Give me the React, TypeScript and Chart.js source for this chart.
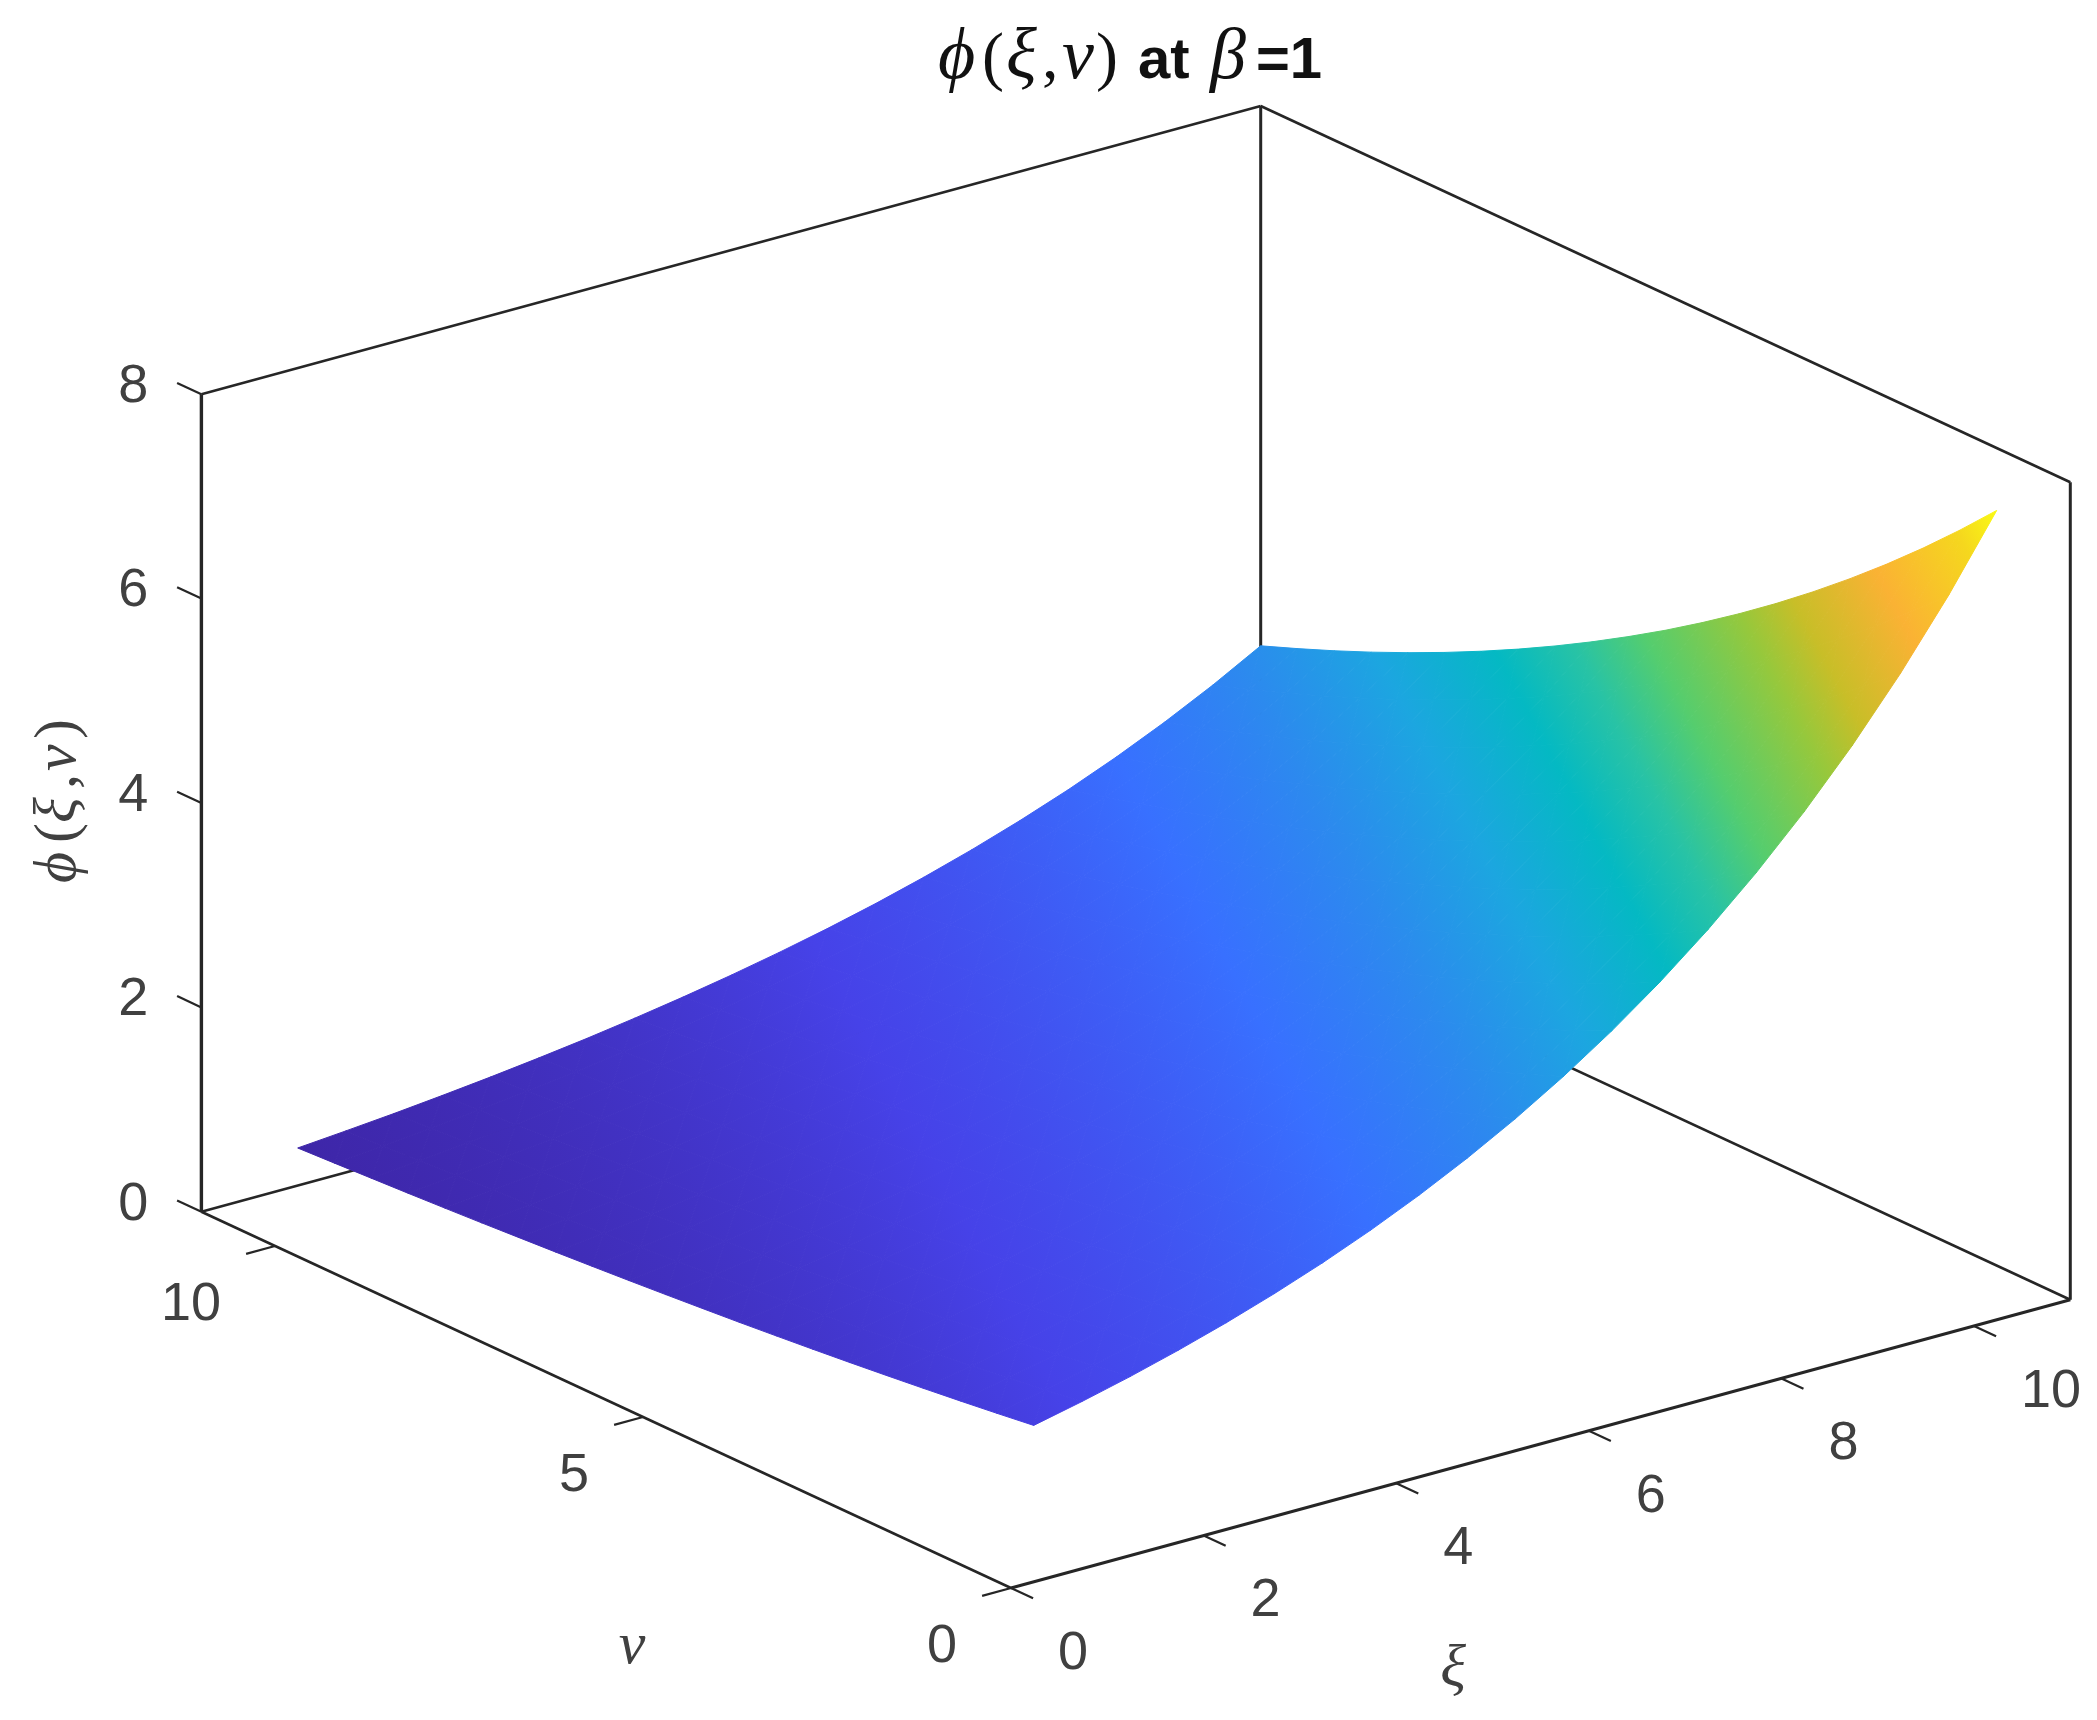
import React, { useEffect, useRef } from "react";
import { Chart, registerables } from "chart.js";

Chart.register(...registerables);

const xiValues = [1, 1.5, 2, 2.5, 3, 3.5, 4, 4.5, 5, 5.5, 6, 6.5, 7, 7.5, 8, 8.5, 9, 9.5, 10, 10.5, 11];
const nuValues = [1, 1.5, 2, 2.5, 3, 3.5, 4, 4.5, 5, 5.5, 6, 6.5, 7, 7.5, 8, 8.5, 9, 9.5, 10, 10.5, 11];
// phi(xi, nu): one row per nu, one column per xi
const phiRows = [
  [1, 1.105, 1.221, 1.35, 1.492, 1.649, 1.822, 2.014, 2.226, 2.46, 2.718, 3.004, 3.32, 3.669, 4.055, 4.482, 4.953, 5.474, 6.05, 6.686, 7.389],
  [0.951, 1.051, 1.162, 1.284, 1.419, 1.568, 1.733, 1.916, 2.117, 2.34, 2.586, 2.858, 3.158, 3.49, 3.857, 4.263, 4.711, 5.207, 5.755, 6.36, 7.029],
  [0.905, 1, 1.105, 1.221, 1.35, 1.492, 1.649, 1.822, 2.014, 2.226, 2.46, 2.718, 3.004, 3.32, 3.669, 4.055, 4.482, 4.953, 5.474, 6.05, 6.686],
  [0.861, 0.951, 1.051, 1.162, 1.284, 1.419, 1.568, 1.733, 1.916, 2.117, 2.34, 2.586, 2.858, 3.158, 3.49, 3.857, 4.263, 4.711, 5.207, 5.755, 6.36],
  [0.819, 0.905, 1, 1.105, 1.221, 1.35, 1.492, 1.649, 1.822, 2.014, 2.226, 2.46, 2.718, 3.004, 3.32, 3.669, 4.055, 4.482, 4.953, 5.474, 6.05],
  [0.779, 0.861, 0.951, 1.051, 1.162, 1.284, 1.419, 1.568, 1.733, 1.916, 2.117, 2.34, 2.586, 2.858, 3.158, 3.49, 3.857, 4.263, 4.711, 5.207, 5.755],
  [0.741, 0.819, 0.905, 1, 1.105, 1.221, 1.35, 1.492, 1.649, 1.822, 2.014, 2.226, 2.46, 2.718, 3.004, 3.32, 3.669, 4.055, 4.482, 4.953, 5.474],
  [0.705, 0.779, 0.861, 0.951, 1.051, 1.162, 1.284, 1.419, 1.568, 1.733, 1.916, 2.117, 2.34, 2.586, 2.858, 3.158, 3.49, 3.857, 4.263, 4.711, 5.207],
  [0.67, 0.741, 0.819, 0.905, 1, 1.105, 1.221, 1.35, 1.492, 1.649, 1.822, 2.014, 2.226, 2.46, 2.718, 3.004, 3.32, 3.669, 4.055, 4.482, 4.953],
  [0.638, 0.705, 0.779, 0.861, 0.951, 1.051, 1.162, 1.284, 1.419, 1.568, 1.733, 1.916, 2.117, 2.34, 2.586, 2.858, 3.158, 3.49, 3.857, 4.263, 4.711],
  [0.607, 0.67, 0.741, 0.819, 0.905, 1, 1.105, 1.221, 1.35, 1.492, 1.649, 1.822, 2.014, 2.226, 2.46, 2.718, 3.004, 3.32, 3.669, 4.055, 4.482],
  [0.577, 0.638, 0.705, 0.779, 0.861, 0.951, 1.051, 1.162, 1.284, 1.419, 1.568, 1.733, 1.916, 2.117, 2.34, 2.586, 2.858, 3.158, 3.49, 3.857, 4.263],
  [0.549, 0.607, 0.67, 0.741, 0.819, 0.905, 1, 1.105, 1.221, 1.35, 1.492, 1.649, 1.822, 2.014, 2.226, 2.46, 2.718, 3.004, 3.32, 3.669, 4.055],
  [0.522, 0.577, 0.638, 0.705, 0.779, 0.861, 0.951, 1.051, 1.162, 1.284, 1.419, 1.568, 1.733, 1.916, 2.117, 2.34, 2.586, 2.858, 3.158, 3.49, 3.857],
  [0.497, 0.549, 0.607, 0.67, 0.741, 0.819, 0.905, 1, 1.105, 1.221, 1.35, 1.492, 1.649, 1.822, 2.014, 2.226, 2.46, 2.718, 3.004, 3.32, 3.669],
  [0.472, 0.522, 0.577, 0.638, 0.705, 0.779, 0.861, 0.951, 1.051, 1.162, 1.284, 1.419, 1.568, 1.733, 1.916, 2.117, 2.34, 2.586, 2.858, 3.158, 3.49],
  [0.449, 0.497, 0.549, 0.607, 0.67, 0.741, 0.819, 0.905, 1, 1.105, 1.221, 1.35, 1.492, 1.649, 1.822, 2.014, 2.226, 2.46, 2.718, 3.004, 3.32],
  [0.427, 0.472, 0.522, 0.577, 0.638, 0.705, 0.779, 0.861, 0.951, 1.051, 1.162, 1.284, 1.419, 1.568, 1.733, 1.916, 2.117, 2.34, 2.586, 2.858, 3.158],
  [0.407, 0.449, 0.497, 0.549, 0.607, 0.67, 0.741, 0.819, 0.905, 1, 1.105, 1.221, 1.35, 1.492, 1.649, 1.822, 2.014, 2.226, 2.46, 2.718, 3.004],
  [0.387, 0.427, 0.472, 0.522, 0.577, 0.638, 0.705, 0.779, 0.861, 0.951, 1.051, 1.162, 1.284, 1.419, 1.568, 1.733, 1.916, 2.117, 2.34, 2.586, 2.858],
  [0.368, 0.407, 0.449, 0.497, 0.549, 0.607, 0.67, 0.741, 0.819, 0.905, 1, 1.105, 1.221, 1.35, 1.492, 1.649, 1.822, 2.014, 2.226, 2.46, 2.718],
];

const xiTicks = [0, 2, 4, 6, 8, 10];
const nuTicks = [0, 5, 10];
const zTicks = [0, 2, 4, 6, 8];
const xiLimit = 11;
const nuLimit = 11;
const zLimit = 8;

const parula: [number, string][] = [
  [0.0, "rgb(62,38,168)"],
  [0.1, "rgb(70,66,232)"],
  [0.235, "rgb(56,112,255)"],
  [0.32, "rgb(44,138,238)"],
  [0.4, "rgb(28,166,224)"],
  [0.48, "rgb(4,185,195)"],
  [0.54, "rgb(40,195,165)"],
  [0.6, "rgb(85,205,110)"],
  [0.69, "rgb(150,200,60)"],
  [0.745, "rgb(200,190,40)"],
  [0.84, "rgb(250,178,52)"],
  [0.945, "rgb(245,215,30)"],
  [1.0, "rgb(250,250,20)"],
];

// Orthographic view of the 3D axes box
const VIEW = {
  ox: 1011, oy: 1588,
  xiX: 96.3, xiY: -26.2,
  nuX: -73.6, nuY: -34.2,
  zY: -102.2,
};
const project = (xi: number, nu: number, z: number) => ({
  x: VIEW.ox + xi * VIEW.xiX + nu * VIEW.nuX,
  y: VIEW.oy + xi * VIEW.xiY + nu * VIEW.nuY + z * VIEW.zY,
});

const INK = "#262626";
const LABEL = "#404040";
const zMin = Math.min(...phiRows.map((r) => Math.min(...r)));
const zMax = Math.max(...phiRows.map((r) => Math.max(...r)));

type V = { xi: number; nu: number; z: number };

function triangleGradient(chart: any, tri: V[]) {
  const sx = chart.scales.x;
  const sy = chart.scales.y;
  const pts = tri.map((v) => {
    const p = project(v.xi, v.nu, v.z);
    return { x: sx.getPixelForValue(p.x), y: sy.getPixelForValue(p.y), z: v.z };
  });
  const [a, b, c] = pts;
  const det = (b.x - a.x) * (c.y - a.y) - (c.x - a.x) * (b.y - a.y);
  const gx = ((b.z - a.z) * (c.y - a.y) - (c.z - a.z) * (b.y - a.y)) / det;
  const gy = ((b.x - a.x) * (c.z - a.z) - (c.x - a.x) * (b.z - a.z)) / det;
  const n = gx * gx + gy * gy;
  const coords = [
    a.x + ((zMin - a.z) * gx) / n,
    a.y + ((zMin - a.z) * gy) / n,
    a.x + ((zMax - a.z) * gx) / n,
    a.y + ((zMax - a.z) * gy) / n,
  ];
  if (!coords.every(Number.isFinite)) return "rgba(0,0,0,0)";
  const g = chart.ctx.createLinearGradient(coords[0], coords[1], coords[2], coords[3]);
  parula.forEach(([t, col]) => g.addColorStop(t, col));
  return g;
}

function surfaceDatasets() {
  const out: any[] = [];
  const vertex = (i: number, j: number): V => ({ xi: xiValues[i], nu: nuValues[j], z: phiRows[j][i] });
  for (let j = 0; j < nuValues.length - 1; j++) {
    for (let i = 0; i < xiValues.length - 1; i++) {
      const tris = [
        [vertex(i, j), vertex(i + 1, j), vertex(i + 1, j + 1)],
        [vertex(i, j), vertex(i + 1, j + 1), vertex(i, j + 1)],
      ];
      tris.forEach((tri) => {
        const paint = (c: any) => triangleGradient(c.chart, tri);
        out.push({
          data: [...tri, tri[0]].map((v) => project(v.xi, v.nu, v.z)),
          showLine: true,
          fill: "shape",
          backgroundColor: paint,
          borderColor: paint,
          borderWidth: 1,
          pointRadius: 0,
          tension: 0,
          clip: false,
        });
      });
    }
  }
  return out;
}

function lineDataset(from: number[], to: number[], width = 2.6) {
  const a = project(from[0], from[1], from[2]);
  const b = project(to[0], to[1], to[2]);
  return {
    data: [a, b],
    showLine: true,
    fill: false,
    borderColor: INK,
    borderWidth: width,
    pointRadius: 0,
    clip: false,
  };
}

function axisDatasets() {
  const X = xiLimit, N = nuLimit, Z = zLimit;
  const out = [
    lineDataset([0, 0, 0], [X, 0, 0], 3),
    lineDataset([0, 0, 0], [0, N, 0]),
    lineDataset([X, 0, 0], [X, N, 0]),
    lineDataset([0, N, 0], [X, N, 0]),
    lineDataset([0, N, 0], [0, N, Z], 3.4),
    lineDataset([X, N, 0], [X, N, Z], 3),
    lineDataset([X, 0, 0], [X, 0, Z], 3),
    lineDataset([0, N, Z], [X, N, Z]),
    lineDataset([X, N, Z], [X, 0, Z]),
  ];
  xiTicks.forEach((t) => out.push(lineDataset([t, 0, 0], [t, -0.3, 0], 2.2)));
  nuTicks.forEach((t) => out.push(lineDataset([0, t, 0], [-0.3, t, 0], 2.2)));
  zTicks.forEach((t) => out.push(lineDataset([0, N, t], [0, N + 0.33, t], 2.2)));
  return out;
}

const SERIF = '"Liberation Serif", serif';
const SANS = '"Liberation Sans", sans-serif';

type Run = { text: string; font: string; dx: number };

function drawRuns(ctx: CanvasRenderingContext2D, runs: Run[], x: number, baseline: number) {
  ctx.textAlign = "left";
  ctx.textBaseline = "alphabetic";
  runs.forEach((r) => {
    ctx.font = r.font;
    ctx.fillText(r.text, x + r.dx, baseline);
  });
}

const textPlugin = {
  id: "axisText",
  afterDraw(chart: any) {
    const ctx: CanvasRenderingContext2D = chart.ctx;
    const sx = chart.scales.x;
    const sy = chart.scales.y;
    const at = (xi: number, nu: number, z: number) => {
      const p = project(xi, nu, z);
      return { x: sx.getPixelForValue(p.x), y: sy.getPixelForValue(p.y) };
    };
    ctx.save();
    ctx.fillStyle = LABEL;
    ctx.font = `54px ${SANS}`;
    ctx.textBaseline = "middle";

    ctx.textAlign = "left";
    xiTicks.forEach((t) => {
      const p = at(t, 0, 0);
      ctx.fillText(String(t), p.x + 47, p.y + 66);
    });
    ctx.textAlign = "right";
    nuTicks.forEach((t) => {
      const p = at(0, t, 0);
      ctx.fillText(String(t), p.x - 54, p.y + 59);
    });
    zTicks.forEach((t) => {
      const p = at(0, nuLimit, t);
      ctx.fillText(String(t), p.x - 53, p.y - 7);
    });

    ctx.textAlign = "center";
    ctx.font = `italic 60px ${SERIF}`;
    ctx.fillText("ν", 632, 1647);
    ctx.fillText("ξ", 1453, 1670);

    ctx.save();
    ctx.translate(75, 803);
    ctx.rotate(-Math.PI / 2);
    const it = `italic 60px ${SERIF}`;
    const up = `60px ${SERIF}`;
    drawRuns(
      ctx,
      [
        { text: "ϕ", font: it, dx: 0 },
        { text: "(", font: up, dx: 40 },
        { text: "ξ", font: it, dx: 60 },
        { text: ",", font: up, dx: 94 },
        { text: "ν", font: it, dx: 112 },
        { text: ")", font: up, dx: 144 },
      ],
      -80,
      0
    );
    ctx.restore();

    ctx.fillStyle = "#111111";
    const ti = `italic 72px ${SERIF}`;
    const tu = `66px ${SERIF}`;
    const tb = `bold 58px ${SANS}`;
    drawRuns(
      ctx,
      [
        { text: "ϕ", font: ti, dx: 0 },
        { text: "(", font: tu, dx: 44 },
        { text: "ξ", font: ti, dx: 68 },
        { text: ",", font: tu, dx: 104 },
        { text: "ν", font: ti, dx: 124 },
        { text: ")", font: tu, dx: 158 },
        { text: "at", font: tb, dx: 200 },
        { text: "β", font: ti, dx: 272 },
        { text: "=1", font: tb, dx: 318 },
      ],
      938,
      78
    );
    ctx.restore();
  },
};

export default function App() {
  const ref = useRef<HTMLCanvasElement | null>(null);
  useEffect(() => {
    document.body.style.margin = "0";
    const chart = new Chart(ref.current as HTMLCanvasElement, {
      type: "scatter",
      data: { datasets: [...surfaceDatasets(), ...axisDatasets()] as any },
      options: {
        animation: false,
        responsive: false,
        devicePixelRatio: 1,
        events: [],
        layout: { padding: 0 },
        plugins: { legend: { display: false }, tooltip: { enabled: false }, title: { display: false } },
        scales: {
          x: { type: "linear", min: 0, max: 2097, display: false },
          y: { type: "linear", min: 0, max: 1720, reverse: true, display: false },
        },
      } as any,
      plugins: [textPlugin],
    });
    return () => chart.destroy();
  }, []);
  return <canvas ref={ref} width={2097} height={1720} style={{ display: "block", width: 2097, height: 1720 }} />;
}
